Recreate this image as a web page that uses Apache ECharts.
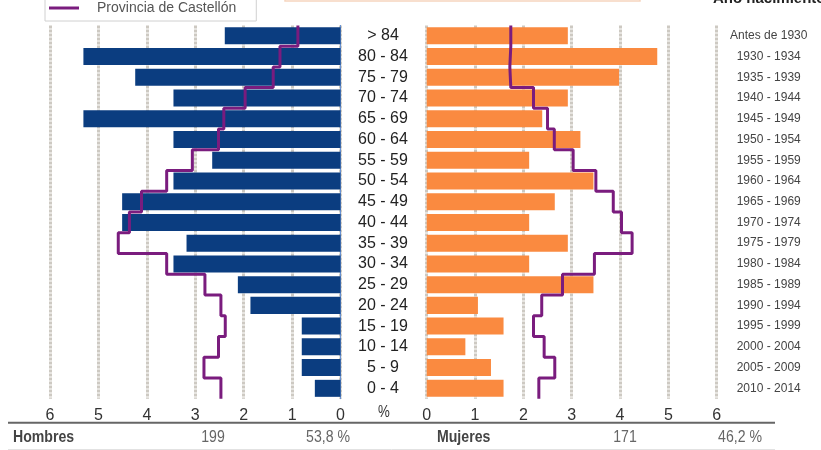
<!DOCTYPE html>
<html>
<head>
<meta charset="utf-8">
<script src="https://cdn.jsdelivr.net/npm/echarts@6/dist/echarts.min.js"></script>
<style>html,body{margin:0;padding:0;background:#fff}#c{width:821px;height:450px}</style>
</head>
<body>
<div id="c"></div>
<script>
// Age groups (top to bottom)
var ages = ['> 84','80 - 84','75 - 79','70 - 74','65 - 69','60 - 64','55 - 59','50 - 54','45 - 49','40 - 44','35 - 39','30 - 34','25 - 29','20 - 24','15 - 19','10 - 14','5 - 9','0 - 4'];
// Birth years (top to bottom)
var years = ['Antes de 1930','1930 - 1934','1935 - 1939','1940 - 1944','1945 - 1949','1950 - 1954','1955 - 1959','1960 - 1964','1965 - 1969','1970 - 1974','1975 - 1979','1980 - 1984','1985 - 1989','1990 - 1994','1995 - 1999','2000 - 2004','2005 - 2009','2010 - 2014'];
// Municipality, % (men / women)
var hombres = [2.39,5.31,4.24,3.45,5.31,3.45,2.65,3.45,4.51,4.51,3.18,3.45,2.12,1.86,0.80,0.80,0.80,0.53];
var mujeres = [2.92,4.77,3.98,2.92,2.39,3.18,2.12,3.45,2.65,2.12,2.92,2.12,3.45,1.06,1.59,0.80,1.33,1.59];
// Provincia de Castellón, % (men / women)
var provHombres = [0.88,1.25,1.39,1.97,2.41,2.52,3.06,3.59,4.11,4.36,4.59,3.59,2.80,2.47,2.38,2.52,2.82,2.47];
var provMujeres = [1.74,1.72,1.74,2.21,2.50,2.64,3.03,3.50,3.86,4.03,4.25,3.47,2.81,2.38,2.21,2.43,2.65,2.32];
// Summary row
var totalHombres = '199', pctHombres = '53,8 %';
var totalMujeres = '171', pctMujeres = '46,2 %';
var provName = 'Provincia de Castellón';

function steps(vals) {
  var pts = [];
  for (var i = 0; i < vals.length; i++) { pts.push([vals[i], i]); pts.push([vals[i], i + 1]); }
  return pts;
}

var NAVY = '#0B3D80', ORANGE = '#FA8A40', PURPLE = '#7A1C7E';
var base = "'Liberation Sans',Arial,sans-serif";
var splitStyle = { show: true, lineStyle: { color: '#cdc9c2', width: 3, type: [3, 1] } };
var NX = 0.83; // condensed look

function narrowText(x, y, text, opts) {
  return { type: 'text', x: x, y: y, scaleX: NX,
    style: { text: text, font: (opts.bold ? 'bold ' : '') + opts.size + 'px ' + base, fill: opts.color,
      textAlign: opts.align || 'left', textVerticalAlign: 'middle' } };
}

var chart = echarts.init(document.getElementById('c'), null, { renderer: 'canvas' });
chart.setOption({
  animation: false,
  textStyle: { fontFamily: base },
  grid: [
    { left: 50, right: 480.5, top: 25.4, bottom: 51.3 },
    { left: 426.7, right: 104.3, top: 25.4, bottom: 51.3 }
  ],
  legend: {
    data: [{ name: provName, icon: 'rect', itemStyle: { color: PURPLE } }],
    left: 45, top: -6, itemWidth: 30, itemHeight: 3,
    padding: [7, 20, 6, 4],
    borderColor: '#d0d0d0', borderWidth: 1,
    textStyle: { fontSize: 14, color: '#555', fontFamily: base, padding: [0, 0, 0, 13] }
  },
  xAxis: [
    { gridIndex: 0, type: 'value', inverse: true, min: 0, max: 6, interval: 1,
      axisLine: { show: false }, axisTick: { show: false }, splitLine: splitStyle,
      axisLabel: { fontSize: 16, color: '#333', margin: 9 } },
    { gridIndex: 1, type: 'value', min: 0, max: 6, interval: 1,
      axisLine: { show: false }, axisTick: { show: false }, splitLine: splitStyle,
      axisLabel: { fontSize: 16, color: '#333', margin: 9 } }
  ],
  yAxis: [
    { gridIndex: 0, type: 'category', data: ages, inverse: true, position: 'right',
      axisLine: { show: true, lineStyle: { color: '#6A94D4', width: 1 } }, axisTick: { show: false },
      axisLabel: { interval: 0, align: 'center', margin: 42.5, fontSize: 16, color: '#222' } },
    { gridIndex: 1, type: 'category', data: years, inverse: true, position: 'right',
      axisLine: { show: false }, axisTick: { show: false },
      axisLabel: { interval: 0, align: 'center', margin: 52, fontSize: 12, color: '#444' } },
    { gridIndex: 0, type: 'value', min: 0, max: 18, inverse: true, show: false },
    { gridIndex: 1, type: 'value', min: 0, max: 18, inverse: true, show: false }
  ],
  series: [
    { type: 'bar', name: 'Hombres', xAxisIndex: 0, yAxisIndex: 0, data: hombres,
      barCategoryGap: '18%', itemStyle: { color: NAVY }, z: 2 },
    { type: 'bar', name: 'Mujeres', xAxisIndex: 1, yAxisIndex: 1, data: mujeres,
      barCategoryGap: '18%', itemStyle: { color: ORANGE }, z: 2 },
    { type: 'line', name: provName, xAxisIndex: 0, yAxisIndex: 2, data: steps(provHombres),
      symbol: 'none', lineStyle: { color: PURPLE, width: 3 }, itemStyle: { color: PURPLE }, z: 5 },
    { type: 'line', name: provName, xAxisIndex: 1, yAxisIndex: 3, data: steps(provMujeres),
      symbol: 'none', lineStyle: { color: PURPLE, width: 3 }, itemStyle: { color: PURPLE }, z: 5 }
  ],
  graphic: [
    { type: 'rect', shape: { x: 285, y: -40, width: 355, height: 41 }, style: { fill: 'none', stroke: '#F6D5BE', lineWidth: 1.5 } },
    { type: 'text', left: 713, top: -9, style: { text: 'Año nacimiento', font: 'bold 15px ' + base, fill: '#222' } },
    narrowText(384, 413, '%', { size: 16, color: '#333', align: 'center' }),
    { type: 'line', shape: { x1: 8, y1: 422.7, x2: 775, y2: 422.7 }, style: { stroke: '#666', lineWidth: 2 } },
    { type: 'line', shape: { x1: 8, y1: 449.5, x2: 775, y2: 449.5 }, style: { stroke: '#e2e2e2', lineWidth: 1 } },
    narrowText(13, 437, 'Hombres', { size: 17, bold: true, color: '#444' }),
    narrowText(213, 437, totalHombres, { size: 17, color: '#666', align: 'center' }),
    narrowText(350, 437, pctHombres, { size: 17, color: '#666', align: 'right' }),
    narrowText(437, 437, 'Mujeres', { size: 17, bold: true, color: '#444' }),
    narrowText(625, 437, totalMujeres, { size: 17, color: '#666', align: 'center' }),
    narrowText(762, 437, pctMujeres, { size: 17, color: '#666', align: 'right' })
  ]
});
</script>
</body>
</html>
